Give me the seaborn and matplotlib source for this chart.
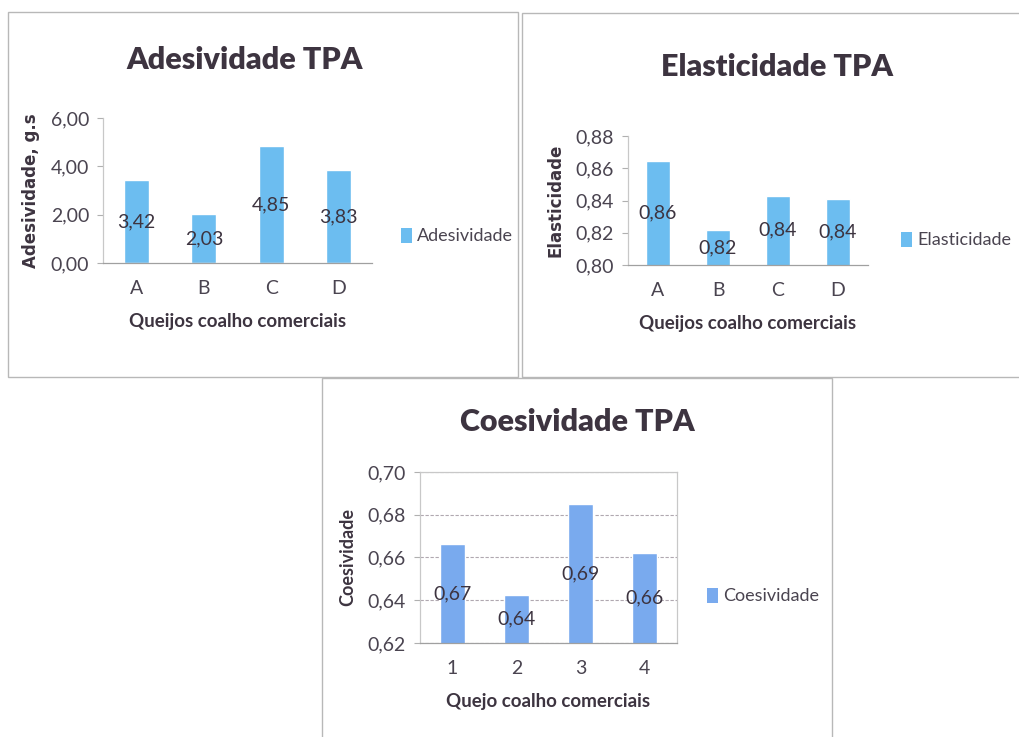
import matplotlib
matplotlib.use("Agg")
import matplotlib.pyplot as plt
import seaborn as sns
from matplotlib.patches import Rectangle, Patch


# =========================================
# Data
# =========================================

ades_cats = ["A", "B", "C", "D"]
ades_vals = [3.42, 2.03, 4.85, 3.83]
ades_labels = ["3,42", "2,03", "4,85", "3,83"]
ades_ticks = [0, 2, 4, 6]
ades_ticklabels = ["0,00", "2,00", "4,00", "6,00"]

elas_cats = ["A", "B", "C", "D"]
elas_vals = [0.8645, 0.8218, 0.8430, 0.8407]
elas_labels = ["0,86", "0,82", "0,84", "0,84"]
elas_ticks = [0.80, 0.82, 0.84, 0.86, 0.88]
elas_ticklabels = ["0,80", "0,82", "0,84", "0,86", "0,88"]

coes_cats = ["1", "2", "3", "4"]
coes_vals = [0.6663, 0.6425, 0.6850, 0.6620]
coes_labels = ["0,67", "0,64", "0,69", "0,66"]
coes_ticks = [0.62, 0.64, 0.66, 0.68, 0.70]
coes_ticklabels = ["0,62", "0,64", "0,66", "0,68", "0,70"]


# =========================================
# Style
# =========================================

sns.set_theme(style="white")
plt.rcParams["font.family"] = ["Lato", "DejaVu Sans"]

W, H = 1019, 737
TXT = "#3d3440"
TICK = "#4a4450"

fig = plt.figure(figsize=(W / 100, H / 100), dpi=100)


def px_axes(x0, y0, x1, y1):
    # pixel box (top-left origin) -> figure axes
    return fig.add_axes([x0 / W, 1 - y1 / H, (x1 - x0) / W, (y1 - y0) / H])


def frame(x0, y0, x1, y1):
    fig.patches.append(Rectangle(
        (x0 / W, 1 - y1 / H), (x1 - x0) / W, (y1 - y0) / H,
        transform=fig.transFigure, fill=False,
        edgecolor="#b8b8b8", linewidth=1.0
    ))


def panel(box, cats, vals, labels, ticks, ticklabels, color,
          title, title_xy, ylabel, xlabel, legend_name, legend_xy,
          width, grid=False, ylabel_font="DejaVu Sans", ylabel_size=12):
    ax = px_axes(*box)
    sns.barplot(x=cats, y=vals, color=color, width=width,
                saturation=1, ax=ax)
    ax.set_ylim(ticks[0], ticks[-1])
    ax.set_yticks(ticks)
    ax.set_yticklabels(ticklabels, fontsize=14, color=TICK)
    ax.set_xticks(range(len(cats)))
    ax.set_xticklabels(cats, fontsize=14, color=TICK)
    ax.tick_params(axis="x", length=0, pad=12)
    ax.tick_params(axis="y", length=4, width=0.8, color="#b0b0b0",
                   left=True, pad=6)
    ax.set_xlabel(xlabel, fontsize=13.5, fontweight="bold", color=TXT,
                  labelpad=12)
    ax.set_ylabel(ylabel, fontsize=ylabel_size, fontweight="bold",
                  color=TXT, labelpad=8, family=[ylabel_font])

    for i, (v, lab) in enumerate(zip(vals, labels)):
        ax.text(i, (ticks[0] + v) / 2, lab, ha="center", va="center",
                fontsize=14, color=TXT)

    for s in ["top", "right"]:
        ax.spines[s].set_visible(grid)
    for s in ax.spines.values():
        s.set_color("#c8c8c8")
        s.set_linewidth(0.9)
    ax.spines["bottom"].set_color("#a0a0a0")

    if grid:
        ax.yaxis.grid(True, color="#b0a8b0", linewidth=0.8,
                      linestyle=(0, (3, 1.5)))
        ax.set_axisbelow(True)

    fig.text(title_xy[0] / W, 1 - title_xy[1] / H, title,
             ha="center", va="center", fontsize=22,
             fontweight="heavy", color=TXT)

    handle = Patch(facecolor=color, edgecolor="none")
    fig.legend([handle], [legend_name],
               loc="center left",
               bbox_to_anchor=(legend_xy[0] / W, 1 - legend_xy[1] / H),
               frameon=False, fontsize=13, handlelength=0.6,
               handleheight=0.9, handletextpad=0.3,
               labelcolor=TICK, borderpad=0, borderaxespad=0)
    return ax


# =========================================
# Panel frames
# =========================================

frame(8, 12, 518, 377)
frame(522, 13, 1030, 377)
frame(322, 378, 832, 745)


# =========================================
# Adesividade TPA
# =========================================

panel((103, 118, 372, 263), ades_cats, ades_vals, ades_labels,
      ades_ticks, ades_ticklabels, "#6cbdf0",
      "Adesividade TPA", (245, 60), "Adesividade, g.s",
      "Queijos coalho comerciais", "Adesividade", (401, 236),
      width=0.37)


# =========================================
# Elasticidade TPA
# =========================================

panel((628, 136, 868, 265), elas_cats, elas_vals, elas_labels,
      elas_ticks, elas_ticklabels, "#6cbdf0",
      "Elasticidade TPA", (777, 67), "Elasticidade",
      "Queijos coalho comerciais", "Elasticidade", (901, 240),
      width=0.4)


# =========================================
# Coesividade TPA
# =========================================

panel((420, 472, 677, 643), coes_cats, coes_vals, coes_labels,
      coes_ticks, coes_ticklabels, "#79aaee",
      "Coesividade TPA", (577, 422), "Coesividade",
      "Quejo coalho comerciais", "Coesividade", (707, 596),
      width=0.39, grid=True, ylabel_font="Lato", ylabel_size=13)


plt.savefig("out.png", dpi=100, facecolor="white")
plt.close()
